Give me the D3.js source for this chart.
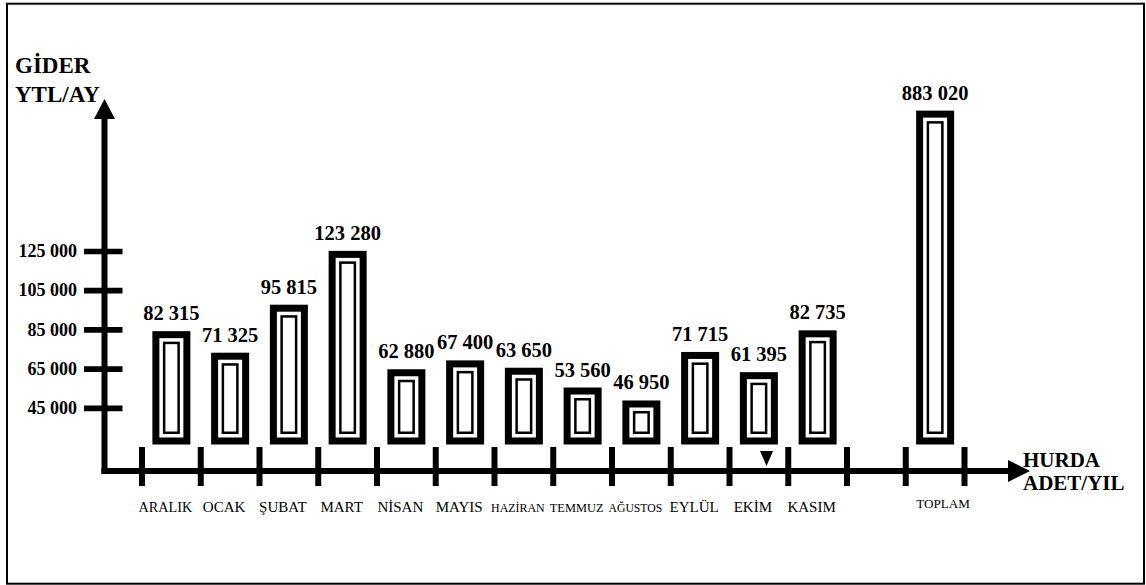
<!DOCTYPE html>
<html>
<head>
<meta charset="utf-8">
<script src="https://cdn.jsdelivr.net/npm/d3@7"></script>
<style>
  html, body { margin: 0; padding: 0; background: #fff; }
  svg { display: block; font-family: "Liberation Serif", "Times New Roman", serif; }
</style>
</head>
<body>
<svg id="chart" width="1146" height="585"></svg>
<script>
// Monthly scrap cost (YTL per month) and the yearly total
const months = ["ARALIK", "OCAK", "ŞUBAT", "MART", "NİSAN", "MAYIS", "HAZİRAN",
                "TEMMUZ", "AĞUSTOS", "EYLÜL", "EKİM", "KASIM"];
const monthlyCost = [82315, 71325, 95815, 123280, 62880, 67400, 63650,
                     53560, 46950, 71715, 61395, 82735];
const totalLabel = "TOPLAM";
const totalCost = 883020;
const yTickValues = [45000, 65000, 85000, 105000, 125000];
const yTitleLines = ["GİDER", "YTL/AY"];
const xTitleLines = ["HURDA", "ADET/YIL"];
const markedMonth = "EKİM";

const svg = d3.select("#chart");
const W = 1146, H = 585;

svg.append("rect").attr("width", W).attr("height", H).attr("fill", "#fff");
// frame
svg.append("rect")
  .attr("x", 7).attr("y", 3.7).attr("width", 1137).attr("height", 580)
  .attr("fill", "none").attr("stroke", "#000").attr("stroke-width", 2);

const fmt = d3.formatLocale({ decimal: ",", thousands: " ", grouping: [3], currency: ["", ""] }).format(",d");

// slots: the twelve months, an empty spacer slot, then the total
const spacer = "\u2009";
const slots = months.concat([spacer, totalLabel]);
const x = d3.scaleBand().domain(slots).range([142, 964.5]).paddingInner(0).paddingOuter(0);
const bw = x.bandwidth();

// the value axis is broken above 125 000 so the yearly total still fits
const y = d3.scaleLinear()
  .domain([45000, 125000, 1000000])
  .range([407.8, 251, 93]);

const axisX = 104.5, axisY = 471;
const barFloor = axisY - 30;

const bars = months.map((m, i) => ({ label: m, value: monthlyCost[i] }))
  .concat([{ label: totalLabel, value: totalCost }]);

// ---- bars: heavy outer frame with a thin inner frame
const outerStroke = 7, innerStroke = 2.5, barW = 38;
const g = svg.append("g");
bars.forEach(d => {
  const cx = x(d.label) + bw / 2;
  const top = y(d.value);
  const ow = barW - outerStroke;
  g.append("rect")
    .attr("x", cx - ow / 2).attr("y", top)
    .attr("width", ow).attr("height", barFloor - top)
    .attr("fill", "#fff").attr("stroke", "#000").attr("stroke-width", outerStroke);
  const inset = 8.25;
  g.append("rect")
    .attr("x", cx - ow / 2 + inset).attr("y", top + inset)
    .attr("width", ow - 2 * inset).attr("height", Math.max(0, barFloor - top - 2 * inset))
    .attr("fill", "#fff").attr("stroke", "#000").attr("stroke-width", innerStroke);
  g.append("text")
    .attr("x", cx).attr("y", top - outerStroke / 2 - 11)
    .attr("text-anchor", "middle")
    .attr("font-size", 20.5).attr("font-weight", "bold")
    .text(fmt(d.value));
});

// ---- value axis
const yAxis = d3.axisLeft(y).tickValues(yTickValues).tickFormat(fmt);
const ya = svg.append("g").attr("transform", `translate(${axisX},0)`).call(yAxis);
ya.select(".domain").remove();
ya.selectAll(".tick line")
  .attr("x1", -20.5).attr("x2", 18).attr("stroke", "#000").attr("stroke-width", 5.7);
ya.selectAll(".tick text")
  .attr("x", -27.5).attr("dy", "0.32em")
  .attr("font-family", "'Liberation Serif','Times New Roman',serif")
  .attr("font-size", 18).attr("font-weight", "bold").attr("fill", "#000");

svg.append("line")
  .attr("x1", axisX).attr("x2", axisX).attr("y1", axisY + 3).attr("y2", 117)
  .attr("stroke", "#000").attr("stroke-width", 6);
svg.append("path")
  .attr("d", `M${axisX - 10.5},119 L${axisX + 10.5},119 L${axisX},99 Z`)
  .attr("fill", "#000");

// ---- category axis
svg.append("line")
  .attr("x1", axisX - 3).attr("x2", 1010).attr("y1", axisY).attr("y2", axisY)
  .attr("stroke", "#000").attr("stroke-width", 6);
svg.append("path")
  .attr("d", `M1008,${axisY - 11} L1008,${axisY + 11} L1030,${axisY} Z`)
  .attr("fill", "#000");

const edges = d3.range(slots.length + 1).map(i => x.range()[0] + i * x.step());
svg.append("g").selectAll("line").data(edges).join("line")
  .attr("x1", d => d).attr("x2", d => d)
  .attr("y1", 447).attr("y2", 486)
  .attr("stroke", "#000").attr("stroke-width", 6);

const labelSize = 15;
const catLabels = svg.append("g").selectAll("text")
  .data(slots.filter(s => s !== spacer)).join("text")
  .attr("x", d => x(d) + bw / 2 - (d === totalLabel ? -8 : 6))
  .attr("y", d => d === totalLabel ? 507.5 : 511.5)
  .attr("text-anchor", "middle")
  .attr("font-size", labelSize)
  .text(d => d);
// shrink long month names so neighbours stay apart
catLabels.each(function () {
  const len = this.getComputedTextLength();
  const room = bw - 5;
  if (len > room) {
    d3.select(this).attr("font-size", (labelSize * room / len).toFixed(2));
  }
});

// marker under the EKİM bar
const mx = x(markedMonth) + bw * 0.63;
svg.append("path")
  .attr("d", `M${mx - 6.5},451 L${mx + 6.5},451 L${mx},466 Z`)
  .attr("fill", "#000");

// ---- axis titles
svg.append("g").selectAll("text").data(yTitleLines).join("text")
  .attr("x", 15).attr("y", (d, i) => 73 + i * 28.7)
  .attr("font-size", 23).attr("font-weight", "bold")
  .text(d => d);
svg.append("g").selectAll("text").data(xTitleLines).join("text")
  .attr("x", 1023).attr("y", (d, i) => 466.7 + i * 23.5)
  .attr("font-size", 21).attr("font-weight", "bold")
  .text(d => d);
</script>
</body>
</html>
